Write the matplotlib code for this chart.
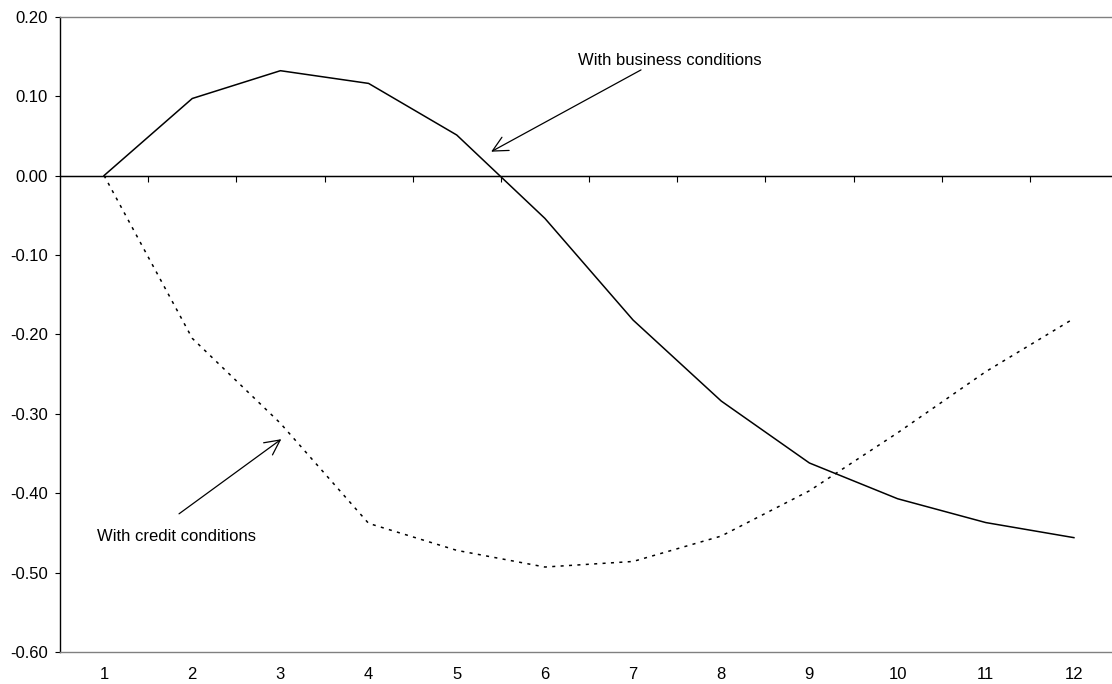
import matplotlib
matplotlib.use("Agg")
import matplotlib.pyplot as plt
from matplotlib.ticker import FixedLocator, FormatStrFormatter

plt.rcParams["font.family"] = ["Liberation Sans", "DejaVu Sans"]

# horizon (quarters) and the two response paths
periods = [1, 2, 3, 4, 5, 6, 7, 8, 9, 10, 11, 12]
business = [0.000, 0.097, 0.132, 0.116, 0.051, -0.054, -0.182, -0.284,
            -0.362, -0.407, -0.437, -0.456]
credit = [0.000, -0.205, -0.312, -0.438, -0.472, -0.493, -0.486, -0.454,
          -0.397, -0.324, -0.247, -0.180]
y_ticks = [-0.6, -0.5, -0.4, -0.3, -0.2, -0.1, 0.0, 0.1, 0.2]

fig = plt.figure(figsize=(11.12, 6.84), dpi=100)
# right edge of the plot area sits just past the picture, as in the original
ax = fig.add_axes([60 / 1112, 1 - 652 / 684, 1058 / 1112, (652 - 16.7) / 684])

ax.plot(periods, business, color="black", lw=1.1, solid_joinstyle="miter")
ax.plot(periods, credit, color="black", lw=1.1, ls=(0, (2, 3.5)))

ax.set_xlim(periods[0] - 0.5, periods[-1] + 0.5)
ax.set_ylim(y_ticks[0], y_ticks[-1])

ax.set_yticks(y_ticks)
ax.yaxis.set_major_formatter(FormatStrFormatter("%.2f"))
ax.tick_params(axis="y", direction="out", length=3.6, width=0.8, pad=5,
               labelsize=12, colors="black")
ax.set_xticks(periods)
ax.set_xticklabels([str(p) for p in periods])
ax.tick_params(axis="x", length=0, pad=11, labelsize=12)

for side in ["top", "bottom"]:
    ax.spines[side].set_color("#808080")
    ax.spines[side].set_linewidth(1.0)
ax.spines["right"].set_visible(False)
ax.spines["left"].set_color("black")
ax.spines["left"].set_linewidth(1.0)

# category axis drawn along zero, with ticks between categories
ax.axhline(0, color="black", lw=1.0, zorder=1.5)
zero_pos = (0 - y_ticks[0]) / (y_ticks[-1] - y_ticks[0])
sec = ax.secondary_xaxis(zero_pos)
sec.xaxis.set_major_locator(FixedLocator([p + 0.5 for p in periods[:-1]]))
sec.xaxis.set_ticks_position("bottom")
sec.tick_params(axis="x", direction="out", length=4.5, width=0.8,
                labelbottom=False, labeltop=False, colors="black")

arrow = dict(arrowstyle="->,head_length=0.6,head_width=0.3", color="black",
             lw=0.9, mutation_scale=18, shrinkA=0, shrinkB=0)
ax.text(6.37, 0.145, "With business conditions", fontsize=12, ha="left", va="center")
ax.annotate("", xy=(5.39, 0.030), xytext=(7.09, 0.133), arrowprops=arrow)
ax.text(0.92, -0.455, "With credit conditions", fontsize=12, ha="left", va="center")
ax.annotate("", xy=(3.01, -0.332), xytext=(1.85, -0.426), arrowprops=arrow)

fig.savefig("out.png", dpi=100)
